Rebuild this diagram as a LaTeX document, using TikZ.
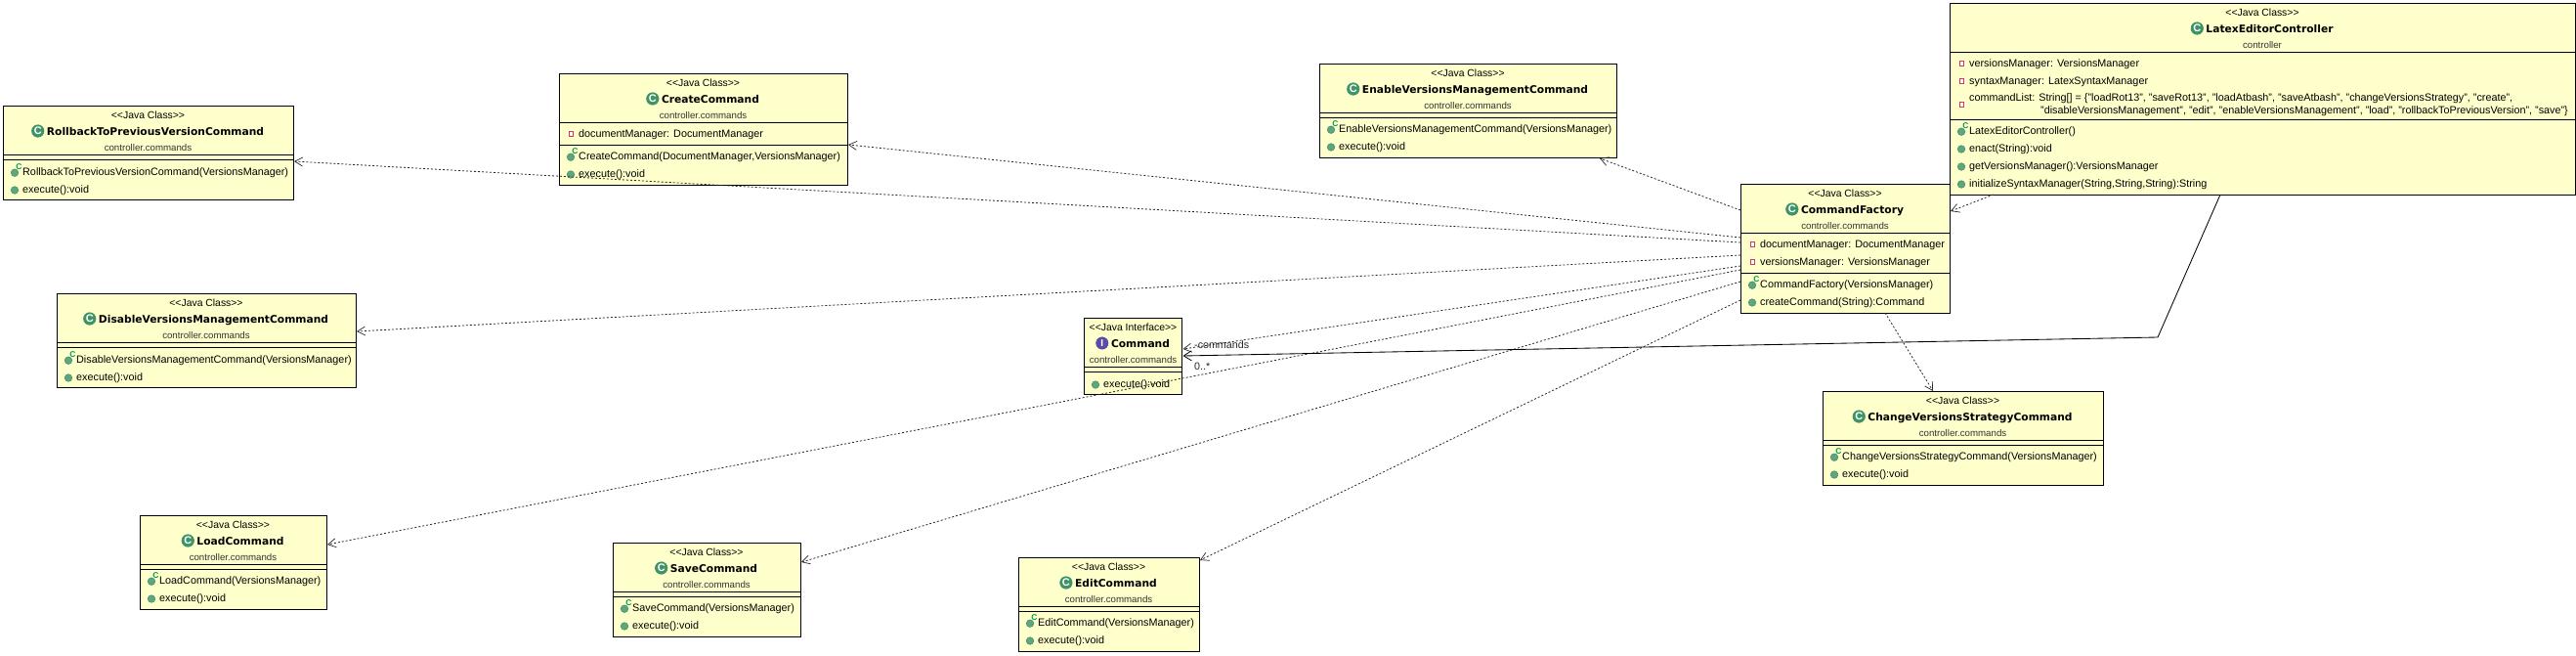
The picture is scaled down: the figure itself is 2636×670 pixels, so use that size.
\documentclass[tikz,border=0pt]{standalone}
\usepackage{fontspec}
\setmainfont{Liberation Sans}
\newfontfamily\titlefont{DejaVu Sans}
\usetikzlibrary{arrows.meta}
\definecolor{boxfill}{HTML}{FFFFCC}
\definecolor{icongreen}{HTML}{5FA57F}
\definecolor{iconedge}{HTML}{3F8F66}
\definecolor{classgreen}{HTML}{3E9466}
\definecolor{ifacepurple}{HTML}{5B4BA8}
\definecolor{privred}{HTML}{D9365C}
\definecolor{ctorgreen}{HTML}{009A50}
\tikzset{
  umlbox/.style={draw=black,fill=boxfill,line width=1pt,rectangle,inner sep=0pt,outer sep=0pt},
  sepline/.style={draw=black,line width=1pt},
  stereo/.style={inner sep=0pt,anchor=base,font=\fontsize{10.4}{12}\selectfont},
  titletext/.style={inner sep=0pt,anchor=base,font=\titlefont\bfseries\fontsize{10.7}{12}\selectfont},
  pkgtext/.style={inner sep=0pt,anchor=base,text=black!80,font=\fontsize{9.7}{12}\selectfont},
  member/.style={inner sep=0pt,anchor=base west,font=\fontsize{10.8}{12}\selectfont},
  edgelabel/.style={inner sep=0pt,anchor=base west,text=black!85,font=\fontsize{10.7}{12}\selectfont},
  classicon/.style={circle,minimum size=12.5pt,inner sep=0pt,fill=classgreen,draw=iconedge,line width=.6pt,text=white,font=\fontsize{11}{11}\selectfont\bfseries},
  ifaceicon/.style={circle,minimum size=12.5pt,inner sep=0pt,fill=ifacepurple,draw=ifacepurple,text=white,font=\fontsize{10}{10}\selectfont\bfseries},
  methicon/.style={circle,minimum size=7.6pt,inner sep=0pt,fill=icongreen,draw=iconedge,line width=.5pt},
  privicon/.style={rectangle,minimum size=4.6pt,inner sep=0pt,fill=white,draw=privred,line width=1.2pt},
  ctormark/.style={inner sep=0pt,text=ctorgreen,font=\fontsize{8.4}{9}\selectfont\bfseries},
  dep/.style={draw=black!85,line width=.8pt,dash pattern=on 2pt off 2pt,-{Straight Barb[length=8pt,width=9pt,line width=.7pt]}},
  assoc/.style={draw=black,line width=.85pt,-{Straight Barb[length=8pt,width=10pt,line width=.8pt]}}
}
\newcounter{rown}
% name, left, top, right, bottom, sep1, sep2, icon style, letter, title, package
\newcommand{\umlclass}[9]{%
  \node[umlbox,minimum width={(#4-#2)*1pt},minimum height={(#5-#3)*1pt}] (#1) at ({(#2+#4)/2},{(#3+#5)/2}) {};
  \draw[sepline] (#1.west |- 0,#6) -- (#1.east |- 0,#6);
  \draw[sepline] (#1.west |- 0,#7) -- (#1.east |- 0,#7);
  \def\bx{#1}\def\cx{(#2+#4)/2}\def\ty{#3}\def\ic{#8}\def\ie{#9}\umlclassrest}
\newcommand{\umlclassrest}[3]{%
  \node[stereo] (\bx-stereo) at ({\cx},{\ty+13}) {<{}<Java \ie>{}>};
  \node[titletext] (\bx-title) at ({\cx+7.5},{\ty+30}) {#2};
  \node[pkgtext] (\bx-pkg) at ({\cx},{\ty+46}) {#3};
  \node[\ic] (\bx-icon) at ([xshift=-9pt]\bx-title.west |- 0,{\ty+26}) {#1};
}
\newcommand{\privrow}[3]{\stepcounter{rown}%
  \node[member] (row\arabic{rown}) at (#1,{#2+4}) {#3};
  \node[privicon] (ico\arabic{rown}) at ({#1-7.5},{#2+1}) {};}
\newcommand{\methrow}[3]{\stepcounter{rown}%
  \node[member] (row\arabic{rown}) at (#1,{#2+4}) {#3};
  \node[methicon] (ico\arabic{rown}) at ({#1-8},{#2+1.5}) {};}
\newcommand{\ctorrow}[3]{\stepcounter{rown}%
  \node[member] (row\arabic{rown}) at (#1,{#2+4}) {#3};
  \node[methicon] (ico\arabic{rown}) at ({#1-8},{#2+1.7}) {};
  \node[ctormark] (mark\arabic{rown}) at ({#1-3.7},{#2-4.3}) {C};}
\begin{document}
\begin{tikzpicture}[x=1pt,y=-1pt]
\useasboundingbox (0,0) rectangle (2636,670);

\umlclass{latex}{1995}{3}{2635}{199}{53}{122}{classicon}{Class}{C}{LatexEditorController}{controller}
\privrow{2015}{64}{versionsManager: VersionsManager}
\privrow{2015}{82}{syntaxManager: LatexSyntaxManager}
\privrow{2015}{106}{}
\node[member] (cl1) at (2015,103) {commandList: String[] = \{"loadRot13", "saveRot13", "loadAtbash", "saveAtbash", "changeVersionsStrategy", "create",};
\node[member] (cl2) at (2088,116) {"disableVersionsManagement", "edit", "enableVersionsManagement", "load", "rollbackToPreviousVersion", "save"\}};
\ctorrow{2015}{133}{LatexEditorController()}
\methrow{2015}{151}{enact(String):void}
\methrow{2015}{169}{getVersionsManager():VersionsManager}
\methrow{2015}{187}{initializeSyntaxManager(String,String,String):String}

\umlclass{factory}{1781}{188}{1995}{320}{238}{279}{classicon}{Class}{C}{CommandFactory}{controller.commands}
\privrow{1801}{249}{documentManager: DocumentManager}
\privrow{1801}{267}{versionsManager: VersionsManager}
\ctorrow{1801}{290}{CommandFactory(VersionsManager)}
\methrow{1801}{308}{createCommand(String):Command}

\umlclass{enable}{1350}{65}{1654}{161}{115}{120}{classicon}{Class}{C}{EnableVersionsManagementCommand}{controller.commands}
\ctorrow{1370}{131}{EnableVersionsManagementCommand(VersionsManager)}
\methrow{1370}{149}{execute():void}

\umlclass{create}{572}{75}{867}{189}{125}{148}{classicon}{Class}{C}{CreateCommand}{controller.commands}
\privrow{592}{136}{documentManager: DocumentManager}
\ctorrow{592}{159}{CreateCommand(DocumentManager,VersionsManager)}
\methrow{592}{177}{execute():void}

\umlclass{rollback}{3}{108}{300}{204}{158}{163}{classicon}{Class}{C}{RollbackToPreviousVersionCommand}{controller.commands}
\ctorrow{23}{175}{RollbackToPreviousVersionCommand(VersionsManager)}
\methrow{23}{193}{execute():void}

\umlclass{disable}{58}{300}{364}{396}{350}{355}{classicon}{Class}{C}{DisableVersionsManagementCommand}{controller.commands}
\ctorrow{78}{367}{DisableVersionsManagementCommand(VersionsManager)}
\methrow{78}{385}{execute():void}

\umlclass{command}{1109.5}{325}{1209.5}{403}{375}{380}{ifaceicon}{Interface}{I}{Command}{controller.commands}
\methrow{1129}{392}{execute():void}

\umlclass{change}{1865}{400}{2152}{496}{450}{455}{classicon}{Class}{C}{ChangeVersionsStrategyCommand}{controller.commands}
\ctorrow{1885}{466}{ChangeVersionsStrategyCommand(VersionsManager)}
\methrow{1885}{484}{execute():void}

\umlclass{load}{143}{527}{334}{623}{577}{582}{classicon}{Class}{C}{LoadCommand}{controller.commands}
\ctorrow{163}{593}{LoadCommand(VersionsManager)}
\methrow{163}{611}{execute():void}

\umlclass{save}{627}{555}{819}{651}{605}{610}{classicon}{Class}{C}{SaveCommand}{controller.commands}
\ctorrow{647}{621}{SaveCommand(VersionsManager)}
\methrow{647}{639}{execute():void}

\umlclass{edit}{1042}{570}{1227}{666}{620}{625}{classicon}{Class}{C}{EditCommand}{controller.commands}
\ctorrow{1062}{636}{EditCommand(VersionsManager)}
\methrow{1062}{654}{execute():void}

\draw[dep] ([yshift=39pt]factory.west) -- ([xshift=-17pt,yshift=-1pt]enable.south east);
\draw[dep] ([yshift=11pt]factory.west) -- ([xshift=1pt,yshift=-16pt]create.east);
\draw[dep] ([yshift=6pt]factory.west) -- ([xshift=1pt,yshift=-9pt]rollback.east);
\draw[dep] ([yshift=-7pt]factory.west) -- ([xshift=1pt,yshift=9pt]disable.east);
\draw[dep] ([yshift=-18pt]factory.west) -- ([xshift=1pt,yshift=7pt]command.east);
\draw[dep] ([yshift=-22pt]factory.west) -- ([xshift=1pt,yshift=18pt]load.east);
\draw[dep] ([yshift=-34pt]factory.west) -- ([xshift=1pt,yshift=28pt]save.east);
\draw[dep] ([yshift=-53pt]factory.west) -- ([xshift=1pt,yshift=-3pt]edit.north east);
\draw[dep] ([xshift=41pt]factory.south) -- ([xshift=-30.5pt]change.north);
\draw[dep] ([xshift=45pt]latex.south west) -- ([yshift=38pt,xshift=1pt]factory.east);
\coordinate (bend) at (2208,345);
\draw[assoc] ([xshift=-43pt]latex.south) -- (bend) -- ([xshift=1pt]command.east);
\node[edgelabel] (lblrole) at (1222,356) {-commands};
\node[edgelabel] (lblmult) at (1222,378) {0..*};
\end{tikzpicture}
\end{document}
